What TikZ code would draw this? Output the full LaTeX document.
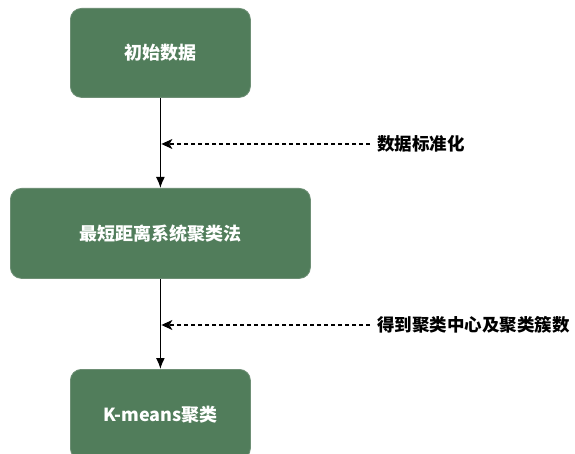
\documentclass[tikz,border=0pt]{standalone}
\usepackage{fontspec}
\setmainfont{Noto Sans CJK SC}
\usetikzlibrary{arrows.meta}
\definecolor{boxgreen}{HTML}{517D5B}
\definecolor{boxedge}{HTML}{6E8F75}
\begin{document}
\begin{tikzpicture}[x=1pt,y=-1pt,
  procbox/.style={draw=boxedge, line width=0.8pt, fill=boxgreen, rounded corners=11pt,
    text=white, font=\fontsize{18}{21}\selectfont\bfseries, anchor=north west, inner sep=0pt},
  flow/.style={line width=1.5pt, -{Latex[length=11pt,width=9pt]}},
  note/.style={line width=1.2pt, dash pattern=on 4pt off 3pt, -{Stealth[length=11pt,width=10pt,inset=3pt]}},
  lbl/.style={font=\fontsize{17.5}{20}\selectfont\bfseries, anchor=west, inner sep=0pt}]
\useasboundingbox (0,0) rectangle (575,454);
\fill[white] (0,0) rectangle (575,454);
\node[procbox, minimum width=180pt, minimum height=89pt] (b1) at (70,8) {初始数据};
\node[procbox, minimum width=300pt, minimum height=90pt] (b2) at (10,188) {最短距离系统聚类法};
\node[procbox, minimum width=180pt, minimum height=90pt] (b3) at (70,369) {K-means聚类};
\draw[flow] (b1.south) -- (b2.north);
\draw[flow] (b2.south) -- (b3.north);
\node[lbl] (l1) at (377,144) {数据标准化};
\node[lbl] (l2) at (377,325) {得到聚类中心及聚类簇数};
\coordinate (t1) at (b1.south |- l1.west);
\coordinate (t2) at (b2.south |- l2.west);
\draw[note] ([xshift=-7pt]l1.west) -- ([xshift=1pt]t1);
\draw[note] ([xshift=-7pt]l2.west) -- ([xshift=1pt]t2);
\end{tikzpicture}
\end{document}
